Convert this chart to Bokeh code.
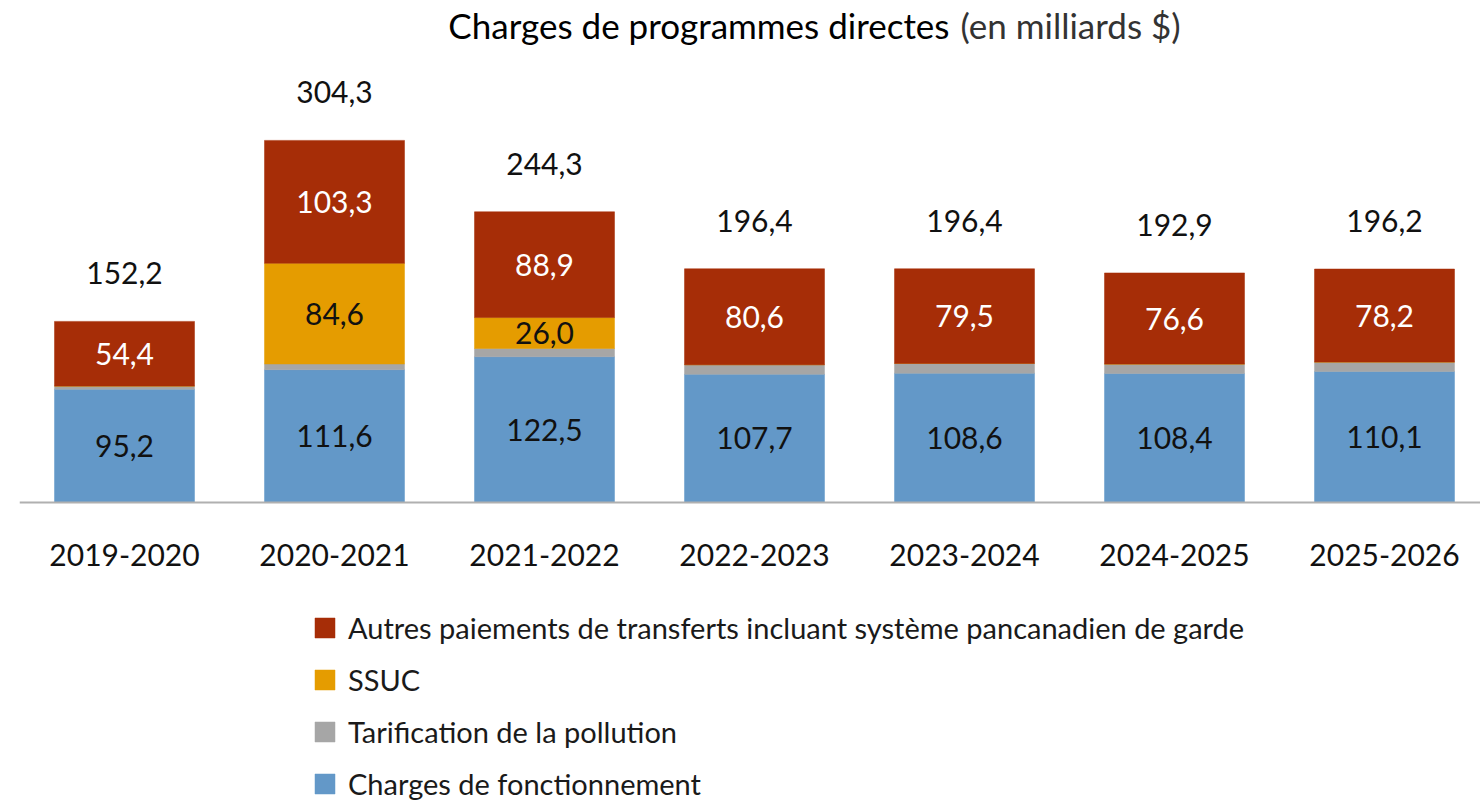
from bokeh.plotting import figure
from bokeh.models import ColumnDataSource, Range1d, Span, Label, Legend, LegendItem
from bokeh.core.properties import value
from bokeh.embed import file_html
from bokeh.resources import INLINE

# ---- data ----
years = ["2019-2020", "2020-2021", "2021-2022", "2022-2023", "2023-2024", "2024-2025", "2025-2026"]
fonctionnement = [95.2, 111.6, 122.5, 107.7, 108.6, 108.4, 110.1]
pollution = [2.6, 4.8, 6.9, 8.1, 8.3, 7.9, 7.9]
ssuc = [0.0, 84.6, 26.0, 0.0, 0.0, 0.0, 0.0]
autres = [54.4, 103.3, 88.9, 80.6, 79.5, 76.6, 78.2]
totaux = [152.2, 304.3, 244.3, 196.4, 196.4, 192.9, 196.2]

series_names = ["Charges de fonctionnement", "Tarification de la pollution", "SSUC",
                "Autres paiements de transferts incluant système pancanadien de garde"]
title_main = "Charges de programmes directes"
title_unit = "(en milliards $)"

# ---- styles ----
C_BLUE = "#6398C8"
C_GRAY = "#A6A6A6"
C_ORANGE = "#E59C00"
C_RED = "#A62D07"
FONT = "Lato"
NUM_SIZE = "30px"
W, H = 1480, 803
LEFT = 19
BASE = 502
PX_PER_UNIT = 1.19
STEP = 210


def fr(v):
    return f"{v:.1f}".replace(".", ",")


xs = list(range(len(years)))
src = ColumnDataSource(dict(
    x=xs, years=years,
    fonctionnement=fonctionnement, pollution=pollution, ssuc=ssuc, autres=autres,
    total=totaux, total_lbl=[fr(v) for v in totaux],
))

p = figure(width=W, height=H,
           x_range=Range1d(-0.5, -0.5 + (W - LEFT) / STEP),
           y_range=Range1d(-(H - BASE) / PX_PER_UNIT, BASE / PX_PER_UNIT),
           output_backend="svg", toolbar_location=None,
           x_axis_location=None, y_axis_location=None,
           min_border_left=LEFT, min_border_right=0, min_border_top=0, min_border_bottom=0,
           outline_line_color=None, background_fill_color="white")
p.grid.visible = False

stackers = ["fonctionnement", "pollution", "ssuc", "autres"]
colors = [C_BLUE, C_GRAY, C_ORANGE, C_RED]
rs = p.vbar_stack(stackers, x="x", width=140 / STEP, color=colors, line_color=colors,
                  line_width=0.5, source=src)

p.add_layout(Span(location=0, dimension="width", line_color="#B0B0B0", line_width=2))

# segment labels
blue_y = [f / 2 for f in fonctionnement]
red_y = [f + pp + s + a / 2 for f, pp, s, a in zip(fonctionnement, pollution, ssuc, autres)]
p.text(x=xs, y=blue_y, text=[fr(v) for v in fonctionnement], text_align="center",
       text_baseline="middle", text_font=value(FONT), text_font_size=NUM_SIZE, text_color="#111111")
p.text(x=xs, y=red_y, text=[fr(v) for v in autres], text_align="center",
       text_baseline="middle", text_font=value(FONT), text_font_size=NUM_SIZE, text_color="white")
ox = [x for x, s in zip(xs, ssuc) if s > 0]
oy = [f + pp + s / 2 for f, pp, s in zip(fonctionnement, pollution, ssuc) if s > 0]
ot = [fr(s) for s in ssuc if s > 0]
p.text(x=ox, y=oy, text=ot, text_align="center", text_baseline="middle",
       text_font=value(FONT), text_font_size=NUM_SIZE, text_color="#111111")

# totals
p.text(x="x", y="total", text="total_lbl", source=src, y_offset=-48, text_align="center",
       text_baseline="middle", text_font=value(FONT), text_font_size=NUM_SIZE, text_color="#111111")

# category labels
p.text(x="x", y=0, text="years", source=src, y_offset=52, text_align="center",
       text_baseline="middle", text_font=value(FONT), text_font_size=NUM_SIZE, text_color="#111111")

# title
p.add_layout(Label(x=949 - LEFT, y=H - 24, x_units="screen", y_units="screen", text=title_main,
                   text_align="right", text_baseline="middle", text_font=FONT,
                   text_font_size="35px", text_color="#000000"))
p.add_layout(Label(x=960 - LEFT, y=H - 24, x_units="screen", y_units="screen", text=title_unit,
                   text_align="left", text_baseline="middle", text_font=FONT,
                   text_font_size="35px", text_color="#333333"))

# legend
items = [LegendItem(label=series_names[i], renderers=[rs[i]]) for i in [3, 2, 1, 0]]
legend = Legend(items=items, location=(293, 2), orientation="vertical",
                border_line_color=None, background_fill_alpha=0, padding=0, margin=0,
                glyph_width=25, glyph_height=25, label_height=25, label_standoff=11, spacing=17,
                label_text_font=FONT, label_text_font_size="29px", label_text_color="#1a1a1a")
p.add_layout(legend)

open("out.html", "w").write(file_html(p, INLINE))
